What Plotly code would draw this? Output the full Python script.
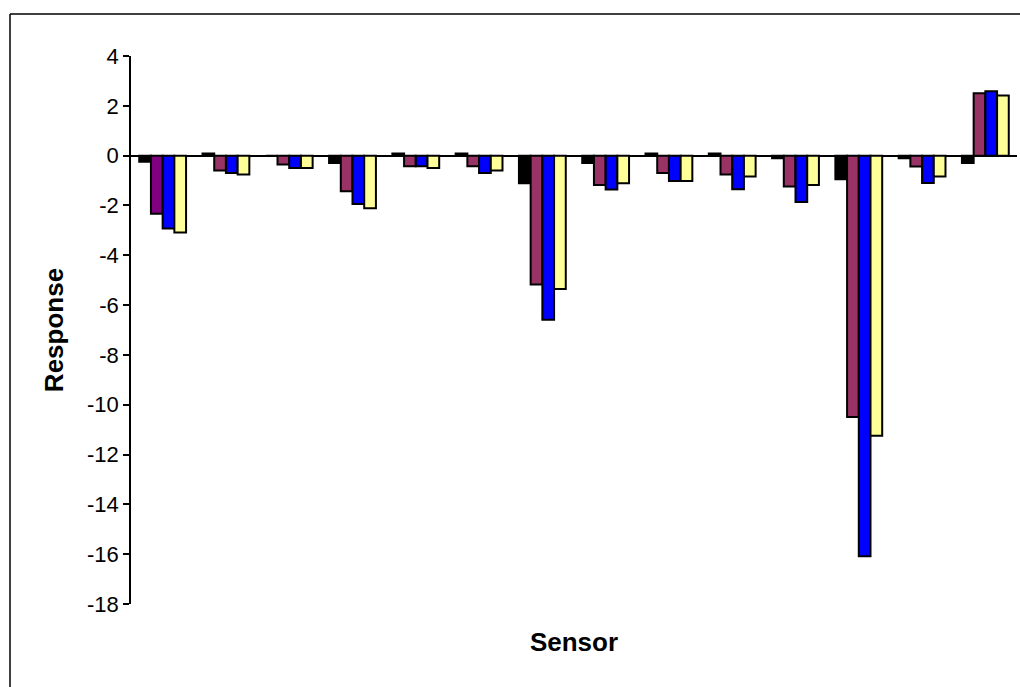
import plotly.graph_objects as go

sensors = [f"S{i}" for i in range(1, 15)]
series_names = ["Series 1", "Series 2", "Series 3", "Series 4"]
s1 = [-0.25, 0.09, 0.0, -0.3, 0.09, 0.09, -1.11, -0.3, 0.09, 0.09, -0.1, -0.95, -0.1, -0.3]
s2 = [-2.33, -0.6, -0.36, -1.43, -0.43, -0.43, -5.17, -1.18, -0.7, -0.76, -1.24, -10.49, -0.44, 2.5]
s3 = [-2.93, -0.7, -0.5, -1.94, -0.43, -0.7, -6.59, -1.36, -1.02, -1.35, -1.86, -16.08, -1.1, 2.58]
s4 = [-3.09, -0.76, -0.5, -2.11, -0.5, -0.6, -5.35, -1.11, -1.02, -0.84, -1.18, -11.25, -0.84, 2.41]
y_ticks = [4, 2, 0, -2, -4, -6, -8, -10, -12, -14, -16, -18]

colors = [
    "#000000",
    ["#800080"] + ["#993366"] * 13,
    "#0000FF",
    "#FFFF99",
]

fig = go.Figure()
for name, vals, col in zip(series_names, [s1, s2, s3, s4], colors):
    fig.add_trace(go.Bar(
        x=sensors, y=vals, name=name,
        marker=dict(color=col, line=dict(color="#000000", width=2)),
    ))

fig.update_layout(
    width=1020, height=687,
    margin=dict(l=131, r=3, t=56, b=83),
    paper_bgcolor="white", plot_bgcolor="white",
    barmode="group", bargap=0.26, bargroupgap=0,
    showlegend=False,
    font=dict(family="Liberation Sans, Arial, sans-serif", color="#000000"),
    xaxis=dict(
        showticklabels=False, ticks="", showline=False, showgrid=False,
        zeroline=False,
        title=dict(text="<b>Sensor</b>", font=dict(size=26), standoff=28),
    ),
    yaxis=dict(
        range=[-18, 4], tickvals=y_ticks, ticktext=[str(v) for v in y_ticks],
        showgrid=False, zeroline=True, zerolinecolor="#000000", zerolinewidth=1.5,
        showline=True, linecolor="#000000", linewidth=1.5,
        ticks="outside", ticklen=6, tickcolor="#000000", tickwidth=1.5,
        tickfont=dict(size=22),
        title=dict(text="<b>Response</b>", font=dict(size=26), standoff=16),
    ),
    shapes=[
        dict(type="line", xref="paper", yref="paper",
             x0=(10 - 131) / 886, x1=(1025 - 131) / 886,
             y0=(687 - 83 - 14) / 548, y1=(687 - 83 - 14) / 548,
             line=dict(color="#000000", width=1.5)),
        dict(type="line", xref="paper", yref="paper",
             x0=(10 - 131) / 886, x1=(10 - 131) / 886,
             y0=(687 - 83 - 14) / 548, y1=-90 / 548,
             line=dict(color="#000000", width=1.5)),
    ],
)

fig.write_html("out.html")
